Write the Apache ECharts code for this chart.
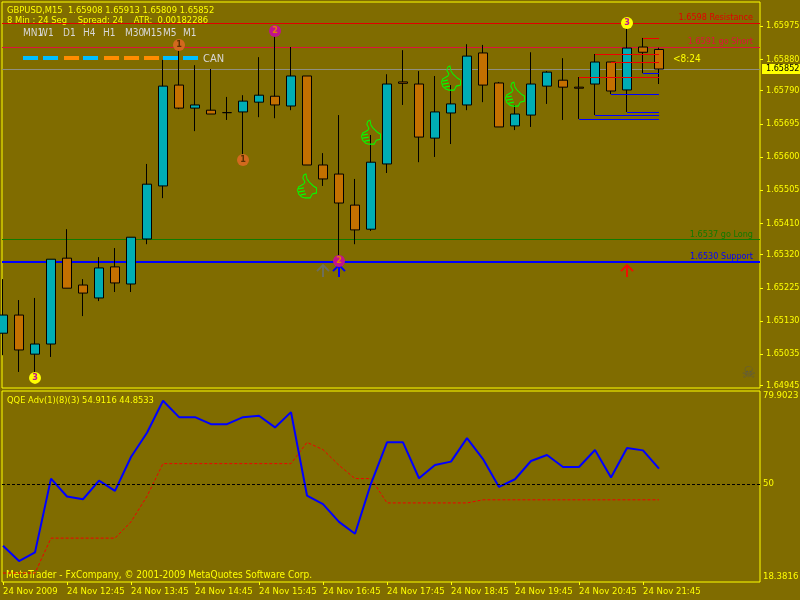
<!DOCTYPE html>
<html>
<head>
<meta charset="utf-8">
<style>
  html, body { margin: 0; padding: 0; background: #806c00; }
  #chart { width: 800px; height: 600px; }
</style>
<script src="https://cdn.jsdelivr.net/npm/echarts@6/dist/echarts.min.js"></script>
</head>
<body>
<div id="chart"></div>
<script>
// bars are M15, index 0 = 24 Nov 11:45
const opens = [1.65095,1.65147,1.65035,1.65064,1.65310,1.65233,1.65196,1.65285,1.65236,1.65365,1.65517,1.65806,1.65740,1.65734,1.65727,1.65729,1.65757,1.65774,1.65746,1.65832,1.65577,1.65551,1.65462,1.65393,1.65580,1.65815,1.65809,1.65654,1.65726,1.65749,1.65898,1.65812,1.65689,1.65720,1.65803,1.65820,1.65800,1.65809,1.65872,1.65792,1.65915,1.65908]
const closes = [1.65147,1.65047,1.65064,1.65307,1.65224,1.65210,1.65282,1.65239,1.65370,1.65522,1.65803,1.65740,1.65749,1.65723,1.65727,1.65760,1.65777,1.65749,1.65832,1.65577,1.65537,1.65468,1.65391,1.65585,1.65809,1.65811,1.65657,1.65729,1.65752,1.65889,1.65806,1.65686,1.65723,1.65809,1.65843,1.65800,1.65797,1.65872,1.65789,1.65912,1.65900,1.65852]
const lows = [1.65032,1.64984,1.64975,1.65027,1.65224,1.65144,1.65187,1.65213,1.65213,1.65350,1.65482,1.65737,1.65674,1.65723,1.65706,1.65591,1.65714,1.65711,1.65734,1.65577,1.65517,1.65293,1.65350,1.65388,1.65554,1.65749,1.65585,1.65600,1.65637,1.65734,1.65757,1.65686,1.65677,1.65686,1.65752,1.65706,1.65709,1.65720,1.65780,1.65729,1.65840,1.65809]
const highs = [1.65250,1.65190,1.65196,1.65307,1.65393,1.65250,1.65313,1.65339,1.65370,1.65580,1.65878,1.65918,1.65863,1.65852,1.65772,1.65777,1.65886,1.65961,1.65915,1.65832,1.65611,1.65720,1.65537,1.65663,1.65837,1.65906,1.65846,1.65832,1.65806,1.65923,1.65921,1.65815,1.65749,1.65900,1.65846,1.65883,1.65829,1.65895,1.65872,1.65978,1.65941,1.65913]

const qqeFast = [30.04,25.13,27.92,51.69,45.91,45.04,51.05,47.71,58.63,66.47,76.75,71.48,71.48,69.23,69.23,71.48,71.93,68.17,73.09,46.23,43.44,37.75,33.90,50.09,63.36,63.36,51.79,56.06,57.15,64.74,57.99,49.00,51.47,57.35,59.28,55.42,55.42,60.88,52.01,61.52,60.78,54.91]
const qqeSlow = [21.27,21.27,21.27,32.51,32.51,32.51,32.51,32.51,37.75,46.01,56.51,56.51,56.51,56.51,56.51,56.51,56.51,56.51,56.51,63.36,61.01,55.97,51.69,51.69,43.85,43.85,43.85,43.85,43.85,43.85,44.85,44.85,44.85,44.85,44.85,44.85,44.85,44.85,44.85,44.85,44.85,44.85]

const priceTicks = [1.65975,1.65880,1.65790,1.65695,1.65600,1.65505,1.65410,1.65320,1.65225,1.65130,1.65035,1.64945]
const qqeTicks = [79.9023,50,18.3816]
const timeLabels = ['24 Nov 2009','24 Nov 12:45','24 Nov 13:45','24 Nov 14:45','24 Nov 15:45','24 Nov 16:45','24 Nov 17:45','24 Nov 18:45','24 Nov 19:45','24 Nov 20:45','24 Nov 21:45']
const timeTicks = timeLabels.map((_, i) => i * 4)

const levels = [
  {price: 1.65983, text: '1.6598 Resistance', color: '#e00000', width: 1},
  {price: 1.65914, text: '1.6591 go Short', color: '#dc143c', width: 1},
  {price: 1.65363, text: '1.6537 go Long', color: '#107a00', width: 1},
  {price: 1.6530, text: '1.6530 Support', color: '#0000ff', width: 2}
]
const lastPrice = 1.65852

// [start bar, price] of the small step lines, they all run to the last bar
const redSteps = [[40,1.65941],[37,1.65895],[38,1.65871],[36,1.65828]]
const blueSteps = [[40,1.65839],[38,1.65779],[39,1.65728],[37,1.65719],[36,1.65708]]

const circles1 = [[11,1.65921],[15,1.65591]]
const circles2 = [[17,1.65961],[21,1.65302]]
const circles3 = [[39,1.65984],[2,1.64967]]
const thumbs = [[19,1.65517],[23,1.65671],[28,1.65826],[32,1.65780]]
const arrowBars = [[20,'#6e6e5a'],[21,'#0000ff'],[39,'#f01000']]
const arrowPrice = 1.65273
const skullPoint = [46.6,1.64978]

const tfNames = ['MN1','W1','D1','H4','H1','M30','M15','M5','M1']
const tfX = [23,39,63,83,103,125,143,163,183]
const tfDashX = [23,43,64,83,104,124,144,163,183]
const tfColors = ['#00bfff','#00bfff','#ff8c00','#00bfff','#ff8c00','#ff8c00','#ff8c00','#00bfff','#00bfff']

const bg = '#806c00'
const yellow = '#ffff00'
const font = 'DejaVu Sans Condensed'
const xMin = -0.0625
const xMax = 47.3125

const thumbPath = 'path://M6 1L8 0L9 5L11 8L15 12L18 14L18 19L14 20L12 24L7 24L4 23L1 20L0 16L1 13L6 10L7 8L5 4ZM1 15L6 14M1 18L7 17M3 21L8 20'
const arrowPath = 'path://M0 6L6 0L12 6M6 0L6 12'

const txt = (x, y, text, fill, size) => ({
  type: 'text', x, y, silent: true,
  style: {text, fill: fill || yellow, font: (size || 9.3) + 'px "' + font + '"', textVerticalAlign: 'middle'}
})

const circleSeries = (data, color, label, labelColor) => ({
  type: 'scatter', xAxisIndex: 0, yAxisIndex: 0, z: 6, data,
  symbolSize: 12, itemStyle: {color, opacity: 1},
  label: {show: true, position: 'inside', formatter: label, color: labelColor, fontSize: 9, fontFamily: font, fontWeight: 'bold'}
})

const stepLines = (steps, color) => steps.map(s => [
  {coord: [s[0], s[1]], lineStyle: {color, width: 1, type: 'solid'}},
  {coord: [41, s[1]]}
])

const chart = echarts.init(document.getElementById('chart'))
chart.setOption({
  animation: false,
  backgroundColor: bg,
  textStyle: {fontFamily: font},
  grid: [
    {left: 2, top: 2, width: 758, height: 386, outerBoundsMode: 'none', show: true, borderColor: yellow, borderWidth: 1, backgroundColor: 'transparent'},
    {left: 2, top: 391, width: 758, height: 191, outerBoundsMode: 'none', show: true, borderColor: yellow, borderWidth: 1, backgroundColor: 'transparent'}
  ],
  xAxis: [
    {type: 'value', gridIndex: 0, min: xMin, max: xMax, show: false, splitLine: {show: false}},
    {
      type: 'value', gridIndex: 1, min: xMin, max: xMax,
      splitLine: {show: false}, axisLine: {show: false, onZero: false},
      axisTick: {show: true, length: 3, lineStyle: {color: yellow}, customValues: timeTicks},
      axisLabel: {
        customValues: timeTicks, color: yellow, fontSize: 9.5, fontFamily: font, align: 'left', margin: 5,
        formatter: v => timeLabels[v / 4]
      }
    }
  ],
  yAxis: [
    {
      type: 'value', gridIndex: 0, position: 'right', min: 1.64938, max: 1.66044, scale: true,
      splitLine: {show: false}, axisLine: {show: false, onZero: false},
      axisTick: {show: true, length: 3, lineStyle: {color: yellow}, customValues: priceTicks},
      axisLabel: {customValues: priceTicks, color: yellow, fontSize: 9, fontFamily: font, margin: 6, formatter: v => v.toFixed(5)}
    },
    {
      type: 'value', gridIndex: 1, position: 'right', min: 18.3816, max: 79.9023,
      splitLine: {show: false}, axisLine: {show: false, onZero: false},
      axisTick: {show: false},
      axisLabel: {
        customValues: qqeTicks, color: yellow, fontSize: 9.5, fontFamily: font, margin: 3,
        verticalAlignMinLabel: 'top', verticalAlignMaxLabel: 'bottom',
        formatter: v => String(v)
      }
    }
  ],
  series: [
    {
      // levels go behind the candles
      type: 'line', xAxisIndex: 0, yAxisIndex: 0, z: 1, data: [], symbol: 'none',
      markLine: {
        silent: true, symbol: 'none', z: 1, precision: 5,
        data: levels.map(l => ({
          yAxis: l.price,
          lineStyle: {color: l.color, width: l.width, type: 'solid'},
          label: {show: true, position: 'insideEndTop', formatter: l.text, color: l.color, fontSize: 9, fontFamily: font, distance: 1, padding: [0, 6, 0, 0]}
        })).concat([{
          yAxis: lastPrice,
          lineStyle: {color: '#8f8f80', width: 1, type: 'solid'},
          label: {show: true, position: 'end', distance: 2, formatter: lastPrice.toFixed(5), color: '#000', backgroundColor: yellow, fontSize: 9, fontFamily: font, padding: [1, 2, 0, 4]}
        }])
      }
    },
    {
      type: 'candlestick', xAxisIndex: 0, yAxisIndex: 0, z: 3, barWidth: 10,
      data: opens.map((o, i) => [i, o, closes[i], lows[i], highs[i]]),
      encode: {x: 0, y: [1, 2, 3, 4]},
      itemStyle: {color: '#00adb5', color0: '#c47000', borderColor: '#000', borderColor0: '#000', borderColorDoji: '#000', borderWidth: 1},
      markLine: {
        silent: true, symbol: 'none', z: 4, precision: 5, label: {show: false},
        data: stepLines(redSteps, '#f00000').concat(stepLines(blueSteps, '#0000ff'))
      }
    },
    {
      type: 'scatter', xAxisIndex: 0, yAxisIndex: 0, z: 5, data: thumbs,
      symbol: thumbPath, symbolSize: [19, 24], itemStyle: {color: 'transparent', borderColor: '#00ff00', borderWidth: 1, opacity: 1}
    },
    ...arrowBars.map(a => ({
      type: 'scatter', xAxisIndex: 0, yAxisIndex: 0, z: 5, data: [[a[0], arrowPrice]],
      symbol: arrowPath, symbolSize: [12, 12], itemStyle: {color: 'transparent', borderColor: a[1], borderWidth: 2, opacity: 1}
    })),
    circleSeries(circles1, '#d2691e', '1', '#5a3000'),
    circleSeries(circles2, '#c0148c', '2', '#e08000'),
    circleSeries(circles3, yellow, '3', '#c0148c'),
    {
      type: 'scatter', xAxisIndex: 0, yAxisIndex: 0, z: 5, data: [skullPoint], symbolSize: 1,
      itemStyle: {color: 'transparent'},
      label: {show: true, position: 'inside', formatter: '\u2620', color: '#555555', fontSize: 16, fontFamily: 'DejaVu Sans'}
    },
    {
      type: 'line', xAxisIndex: 1, yAxisIndex: 1, z: 3, data: qqeSlow.map((v, i) => [i, v]), symbol: 'none',
      lineStyle: {color: '#f00000', width: 1, type: [3, 2]},
      markLine: {
        silent: true, symbol: 'none', label: {show: false},
        data: [{yAxis: 50, lineStyle: {color: '#000', width: 1, type: [3, 2]}}]
      }
    },
    {
      type: 'line', xAxisIndex: 1, yAxisIndex: 1, z: 4, data: qqeFast.map((v, i) => [i, v]), symbol: 'none',
      lineStyle: {color: '#0000ff', width: 2}
    }
  ],
  graphic: [
    txt(7, 11, 'GBPUSD,M15  1.65908 1.65913 1.65809 1.65852'),
    txt(7, 21, '8 Min : 24 Seg    Spread: 24    ATR:  0.00182286'),
    ...tfNames.map((n, i) => txt(tfX[i], 33, n, '#d8d8d8', 10)),
    ...tfDashX.map((x, i) => ({type: 'rect', silent: true, shape: {x, y: 56, width: 15, height: 4}, style: {fill: tfColors[i]}})),
    txt(203, 59, 'CAN', '#d8d8d8', 11),
    txt(673, 59, '<8:24', yellow, 10),
    txt(7, 401, 'QQE Adv(1)(8)(3) 54.9116 44.8533'),
    txt(6, 575, 'MetaTrader - FxCompany, \u00a9 2001-2009 MetaQuotes Software Corp.', yellow, 10)
  ]
})
</script>
</body>
</html>
